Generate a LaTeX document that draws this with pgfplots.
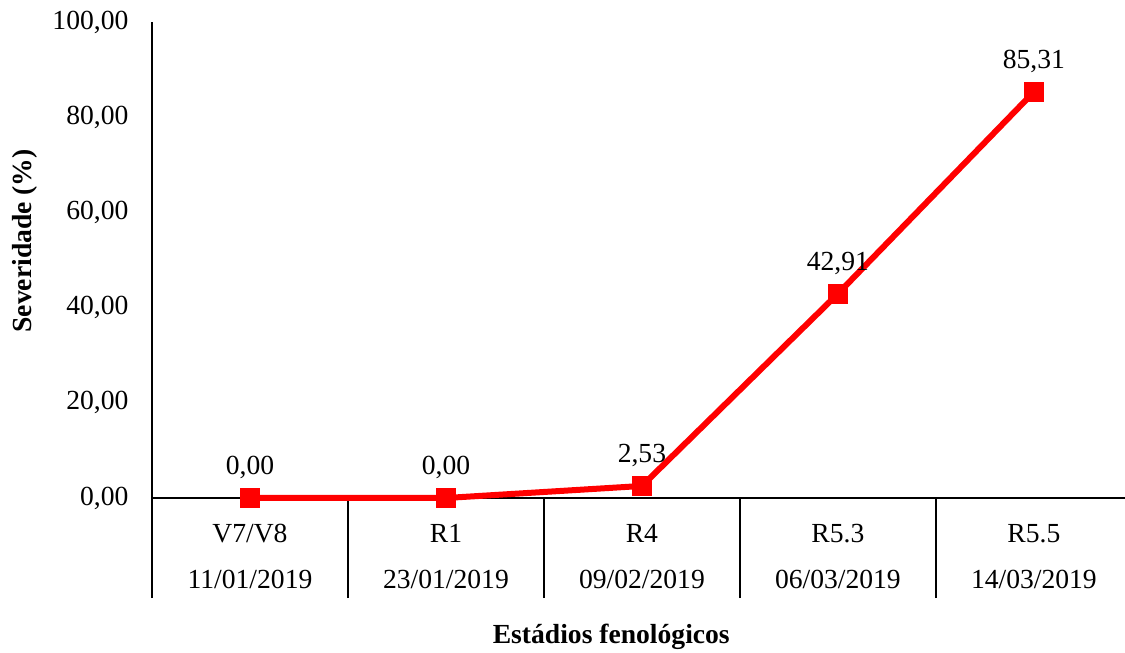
\documentclass[border=0pt]{standalone}
\usepackage{pgfplots}
\pgfplotsset{compat=1.18}
\usepackage{fontspec}
\setmainfont{Liberation Serif}
\begin{document}
\fontsize{13.8pt}{16pt}\selectfont
\begin{tikzpicture}
\path[use as bounding box] (0,0) rectangle (562.5pt,326.5pt);
\begin{axis}[
  at={(76pt,77.5pt)}, anchor=south west,
  scale only axis,
  width=486.5pt, height=238pt,
  xmin=-0.5, xmax=4.465,
  ymin=0, ymax=100,
  axis x line=bottom, axis y line=left,
  axis line style={-, black, line width=1pt},
  /pgf/number format/assume math mode=true,
  ytick={0,20,...,100},
  yticklabel={\pgfmathprintnumber[fixed,fixed zerofill,precision=2,use comma]{\tick}},
  yticklabel style={font=\fontsize{13.8pt}{16pt}\selectfont, xshift=-7pt},
  y tick style={draw=none},
  ytick align=inside,
  xtick={-0.5,0.5,1.5,2.5,3.5},
  xticklabels={},
  x tick style={black, line width=1pt},
  xtick align=outside,
  major tick length=50pt,
  extra x ticks={0,1,2,3,4},
  extra x tick labels={V7/V8\\11/01/2019, R1\\23/01/2019, R4\\09/02/2019, R5.3\\06/03/2019, R5.5\\14/03/2019},
  extra x tick style={major tick length=0pt, tick style={draw=none},
    xticklabel style={align=center, anchor=north, yshift=-8.5pt,
      font=\fontsize{13.8pt}{23pt}\selectfont}},
  xlabel={\textbf{Estádios fenológicos}},
  xlabel style={at={(axis description cs:0.472,-0.292)}, anchor=center,
    font=\fontsize{13.8pt}{16pt}\selectfont},
  ylabel={\textbf{Severidade (\%)}},
  ylabel style={at={(axis description cs:-0.1305,0.54)}, anchor=center,
    font=\fontsize{13.8pt}{16pt}\selectfont},
  clip=false,
]
\addplot[red, line width=3pt, mark=square*, mark size=4.5pt,
  mark options={solid, fill=red, draw=red, line width=0.8pt, rounded corners=1pt},
  point meta=y,
  nodes near coords={\pgfmathprintnumber[fixed,fixed zerofill,precision=2,use comma]{\pgfplotspointmeta}},
  nodes near coords style={anchor=base, yshift=11.5pt, text=black,
    font=\fontsize{13.8pt}{16pt}\selectfont}]
coordinates {(0,0) (1,0) (2,2.53) (3,42.91) (4,85.31)};
\end{axis}
\end{tikzpicture}
\end{document}
